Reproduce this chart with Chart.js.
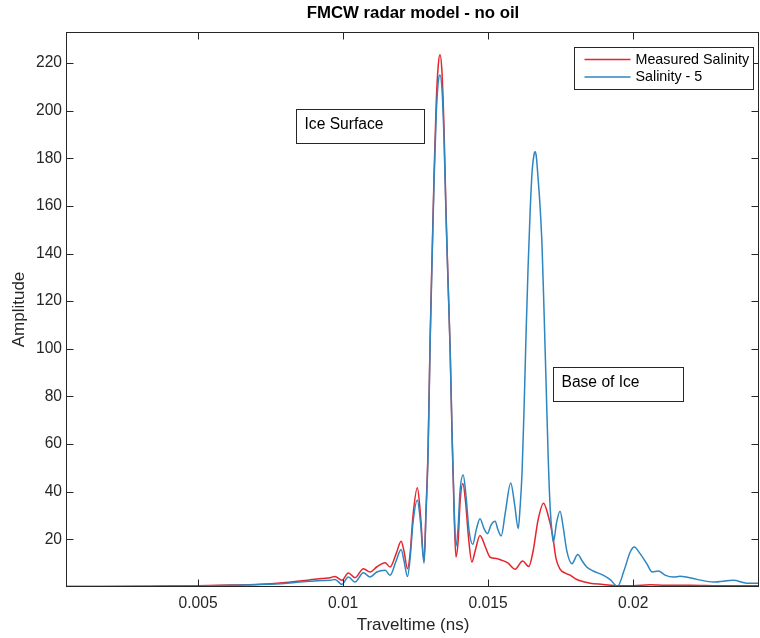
<!DOCTYPE html>
<html>
<head>
<meta charset="utf-8">
<title>FMCW radar model - no oil</title>
<script src="https://cdn.jsdelivr.net/npm/chart.js@4.4.1/dist/chart.umd.min.js"></script>
<style>
  html, body { margin: 0; padding: 0; background: #fff; }
  #wrap { width: 760px; height: 638px; }
</style>
</head>
<body>
<div id="wrap"><canvas id="grafica" width="760" height="638"></canvas></div>
<script>
// traveltime (ns) / amplitude, measured salinity run
const travelMeasured = [0.00048, 0.00162, 0.00334, 0.00500, 0.00610, 0.00714, 0.00783, 0.00834, 0.00886, 0.00928,
    0.00955, 0.00972, 0.00996, 0.01018, 0.01041, 0.01070, 0.01093, 0.01116, 0.01145, 0.01162,
    0.01183, 0.01200, 0.01210, 0.01222, 0.01231, 0.01241, 0.01256, 0.01267, 0.01279, 0.01286,
    0.01293, 0.01300, 0.01307, 0.01314, 0.01321, 0.01328, 0.01334, 0.01341, 0.01348, 0.01355,
    0.01362, 0.01369, 0.01376, 0.01383, 0.01389, 0.01397, 0.01403, 0.01413, 0.01422, 0.01433,
    0.01444, 0.01455, 0.01472, 0.01490, 0.01507, 0.01528, 0.01548, 0.01569, 0.01593, 0.01619,
    0.01640, 0.01655, 0.01672, 0.01691, 0.01707, 0.01722, 0.01734, 0.01748, 0.01766, 0.01783,
    0.01800, 0.01817, 0.01852, 0.01897, 0.01945, 0.02000, 0.02059, 0.02110, 0.02197, 0.02300, 0.02438];
const ampMeasured = [0.2, 0.25, 0.35, 0.5, 0.8, 1.2, 1.7, 2.3, 3.0, 3.6,
    3.9, 4.4, 2.8, 5.9, 3.9, 7.7, 6.3, 8.4, 10.2, 8.4,
    14, 19.2, 15, 7.7, 14, 30, 41.7, 30, 10.9, 33,
    58, 104, 140, 175, 203, 219, 223.5, 216, 192, 157,
    128, 100, 62, 30, 12.6, 20, 35, 43.4, 36, 20,
    10.5, 15, 21.6, 17, 12.5, 12, 11.2, 10, 7.5, 10.9,
    8.6, 15, 28, 35.2, 30, 22, 12, 7.5, 5.8, 5,
    3.5, 2.6, 1.6, 1.1, 0.5, 0.5, 0.9, 0.7, 0.7, 0.5, 0.5];

// same for salinity - 5
const travelSal5 = [0.00048, 0.00162, 0.00334, 0.00500, 0.00610, 0.00714, 0.00783, 0.00834, 0.00886, 0.00928,
    0.00955, 0.00972, 0.00996, 0.01018, 0.01041, 0.01070, 0.01093, 0.01116, 0.01145, 0.01162,
    0.01183, 0.01200, 0.01210, 0.01222, 0.01231, 0.01241, 0.01256, 0.01267, 0.01279, 0.01286,
    0.01293, 0.01300, 0.01307, 0.01314, 0.01321, 0.01328, 0.01334, 0.01341, 0.01348, 0.01355,
    0.01362, 0.01369, 0.01376, 0.01383, 0.01389, 0.01397, 0.01403, 0.01414, 0.01424, 0.01434,
    0.01447, 0.01459, 0.01472, 0.01486, 0.01498, 0.01510, 0.01524, 0.01534, 0.01545, 0.01559,
    0.01578, 0.01591, 0.01604, 0.01610, 0.01617, 0.01624, 0.01631, 0.01638, 0.01645, 0.01652,
    0.01659, 0.01662, 0.01666, 0.01672, 0.01679, 0.01686, 0.01693, 0.01700, 0.01707, 0.01714,
    0.01721, 0.01725, 0.01736, 0.01748, 0.01759, 0.01771, 0.01789, 0.01809, 0.01824, 0.01840,
    0.01863, 0.01898, 0.01921, 0.01946, 0.01969, 0.01990, 0.02004, 0.02024, 0.02047, 0.02066,
    0.02087, 0.02110, 0.02139, 0.02162, 0.02220, 0.02277, 0.02346, 0.02392, 0.02438];
const ampSal5 = [0.2, 0.25, 0.35, 0.45, 0.7, 1.0, 1.4, 1.9, 2.4, 2.7,
    2.8, 3.2, 1.1, 4.2, 2.1, 6.0, 4.2, 6.3, 7.0, 4.9,
    11, 15.7, 11, 4.4, 12, 27, 36.4, 27, 10, 31,
    56, 102, 138, 172, 198, 212, 215, 209, 188, 155,
    127, 100, 63, 33, 17, 26, 40, 47, 38, 24,
    17.9, 24, 28.7, 24.5, 22.4, 26, 27.6, 24, 21.4, 31,
    43.7, 35, 24.5, 33, 48, 75, 107, 135, 158, 175,
    182, 182.7, 181, 172, 160, 143, 115, 85, 55, 33,
    22, 18.9, 27, 31.8, 25, 15.4, 9.8, 13.6, 11, 8.4,
    6.7, 4.9, 3.1, 0.25, 7, 14.7, 16.8, 14, 9.8, 6.3,
    6.7, 5, 4.2, 4.5, 3.2, 2.1, 2.8, 1.6, 1.6];

const xTicks = [0.005, 0.01, 0.015, 0.02];
const yTicks = [20, 40, 60, 80, 100, 120, 140, 160, 180, 200, 220];
const xLimits = [0.00048, 0.02434];
const yLimits = [0, 233];

const fuente = "'Liberation Sans', Arial, Helvetica, sans-serif";
const colorEje = '#262626';

// text boxes, anchored at their top-left corner in data units
const notas = [
    { text: 'Ice Surface', x: 0.00838, y: 200.5, w: 128, h: 34 },
    { text: 'Base of Ice', x: 0.01723, y: 92.4, w: 130, h: 34 }
];

const toPoints = (xs, ys) => xs.map((t, i) => ({ x: t, y: ys[i] }));

// box, inward ticks, title, legend and text boxes, drawn the matlab way
const marcoEjes = {
    id: 'marcoEjes',
    afterDatasetsDraw(chart) {
        const { ctx, chartArea: a, scales: { x, y } } = chart;
        const L = Math.round(a.left) - 0.5, R = Math.round(a.right) - 0.5;
        const T = Math.round(a.top) + 0.5, B = Math.round(a.bottom) - 0.5;
        ctx.save();
        ctx.strokeStyle = colorEje;
        ctx.lineWidth = 1;
        ctx.strokeRect(L, T, R - L, B - T);
        ctx.beginPath();
        xTicks.forEach(v => {
            const px = Math.round(x.getPixelForValue(v)) + 0.5;
            ctx.moveTo(px, B); ctx.lineTo(px, B - 7);
            ctx.moveTo(px, T); ctx.lineTo(px, T + 7);
        });
        yTicks.forEach(v => {
            const py = Math.round(y.getPixelForValue(v)) + 0.5;
            ctx.moveTo(L, py); ctx.lineTo(L + 7, py);
            ctx.moveTo(R, py); ctx.lineTo(R - 7, py);
        });
        ctx.stroke();

        // title
        ctx.fillStyle = '#000';
        ctx.font = 'bold 16.8px ' + fuente;
        ctx.textAlign = 'center';
        ctx.textBaseline = 'middle';
        ctx.fillText('FMCW radar model - no oil', (a.left + a.right) / 2, 13);

        // text boxes
        ctx.font = '15.6px ' + fuente;
        ctx.textAlign = 'left';
        ctx.textBaseline = 'alphabetic';
        notas.forEach(n => {
            const bx = Math.round(x.getPixelForValue(n.x)) + 0.5;
            const by = Math.round(y.getPixelForValue(n.y)) + 0.5;
            ctx.fillStyle = '#fff';
            ctx.fillRect(bx, by, n.w, n.h);
            ctx.strokeStyle = colorEje;
            ctx.strokeRect(bx, by, n.w, n.h);
            ctx.fillStyle = '#000';
            ctx.fillText(n.text, bx + 8, by + 19);
        });

        // legend, top right corner of the axes
        const lw = 179, lh = 42;
        const lx = Math.round(a.right - 6 - lw) + 0.5, ly = Math.round(a.top + 15) + 0.5;
        ctx.fillStyle = '#fff';
        ctx.fillRect(lx, ly, lw, lh);
        ctx.strokeStyle = colorEje;
        ctx.strokeRect(lx, ly, lw, lh);
        ctx.font = '14.3px ' + fuente;
        ctx.textBaseline = 'middle';
        chart.data.datasets.forEach((ds, i) => {
            const ry = ly + 12 + i * 17.4;
            ctx.strokeStyle = ds.borderColor;
            ctx.lineWidth = 1.5;
            ctx.beginPath();
            ctx.moveTo(lx + 10, ry); ctx.lineTo(lx + 56, ry);
            ctx.stroke();
            ctx.fillStyle = '#000';
            ctx.fillText(ds.label, lx + 61, ry + 0.5);
        });
        ctx.restore();
    }
};

const ctx = document.getElementById('grafica');

new Chart(ctx, {
    type: 'line',
    data: {
        datasets: [
            {
                label: 'Measured Salinity',
                data: toPoints(travelMeasured, ampMeasured),
                borderColor: '#e4262c',
                order: 1
            },
            {
                label: 'Salinity - 5',
                data: toPoints(travelSal5, ampSal5),
                borderColor: '#2e86c1',
                order: 0
            }
        ]
    },
    options: {
        responsive: false,
        animation: false,
        layout: { padding: { top: 32, right: 1, left: 0, bottom: 0 } },
        elements: {
            line: { borderWidth: 1.5, cubicInterpolationMode: 'monotone', fill: false },
            point: { radius: 0 }
        },
        scales: {
            x: {
                type: 'linear',
                min: xLimits[0],
                max: xLimits[1],
                afterBuildTicks: s => { s.ticks = xTicks.map(v => ({ value: v })); },
                afterFit: s => { s.height = 51; },
                grid: { display: false, drawTicks: false },
                border: { display: false },
                ticks: {
                    color: colorEje,
                    font: { family: fuente, size: 15.6 },
                    padding: 7.5,
                    maxRotation: 0,
                    callback: v => String(v)
                },
                title: {
                    display: true,
                    text: 'Traveltime (ns)',
                    color: colorEje,
                    font: { family: fuente, size: 17 },
                    padding: { top: 0, bottom: 2.8 }
                }
            },
            y: {
                min: yLimits[0],
                max: yLimits[1],
                afterBuildTicks: s => { s.ticks = yTicks.map(v => ({ value: v })); },
                afterFit: s => { s.width = 67; },
                grid: { display: false, drawTicks: false },
                border: { display: false },
                ticks: {
                    color: colorEje,
                    font: { family: fuente, size: 15.6 },
                    padding: 5
                },
                title: {
                    display: true,
                    text: 'Amplitude',
                    color: colorEje,
                    font: { family: fuente, size: 17 },
                    padding: { top: 8.8, bottom: 0 }
                }
            }
        },
        plugins: {
            legend: { display: false },
            tooltip: { enabled: false }
        }
    },
    plugins: [marcoEjes]
});
</script>
</body>
</html>
